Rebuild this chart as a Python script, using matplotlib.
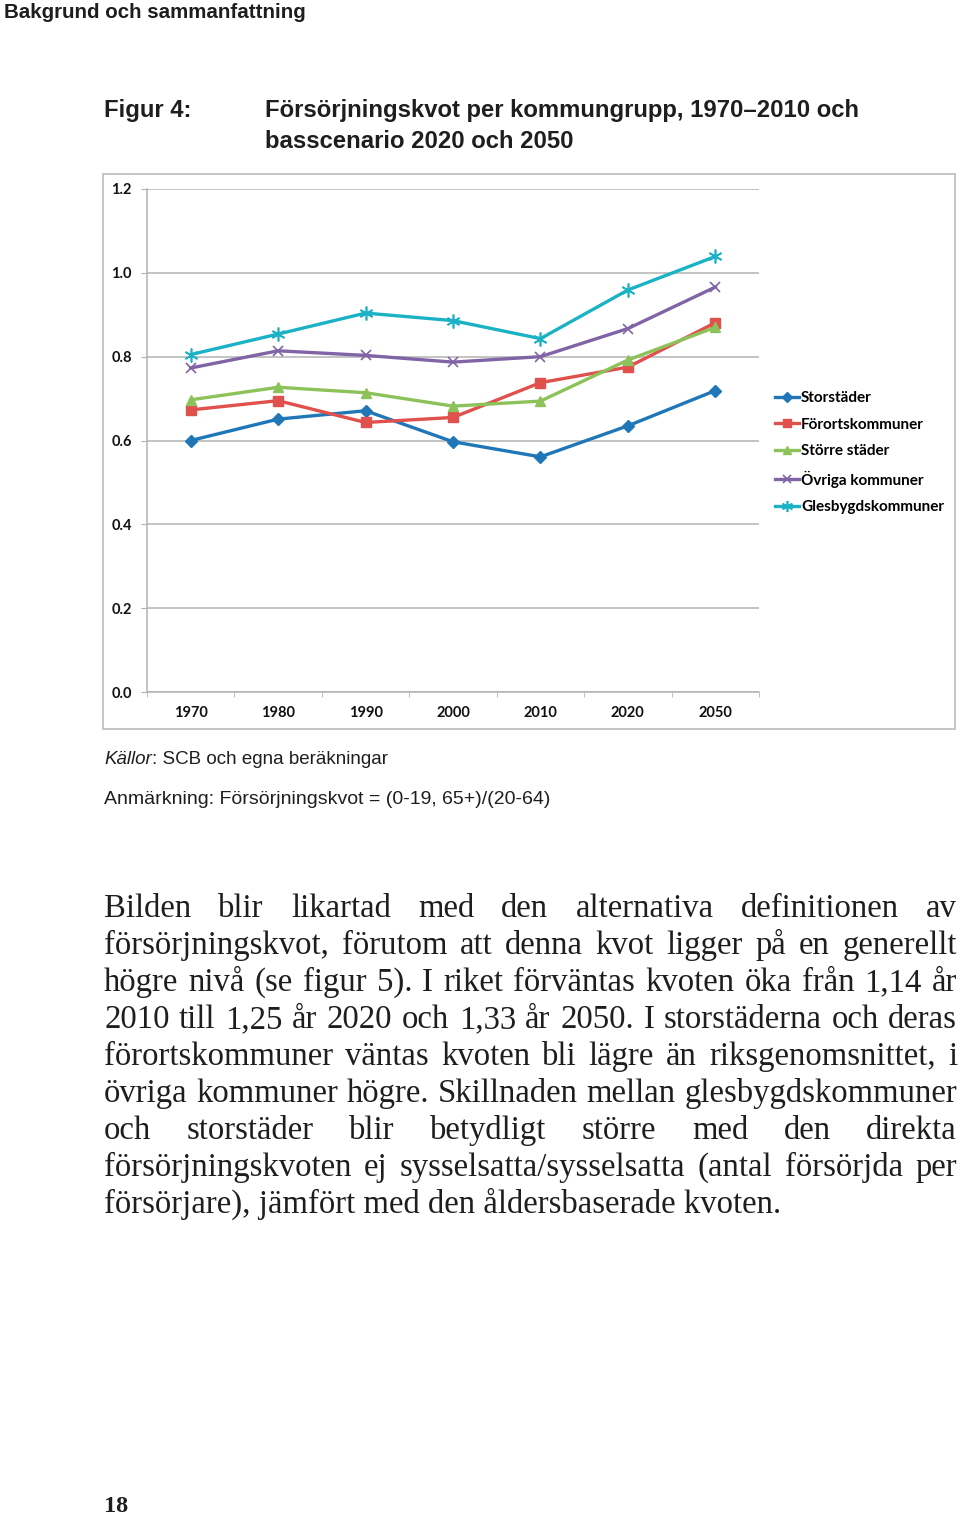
import matplotlib
matplotlib.use("Agg")
import matplotlib.pyplot as plt
from matplotlib.patches import Rectangle
from matplotlib.lines import Line2D

W, H = 960, 1516

years = ["1970", "1980", "1990", "2000", "2010", "2020", "2050"]
storstader = [0.600, 0.651, 0.671, 0.597, 0.561, 0.635, 0.719]
forortskommuner = [0.673, 0.695, 0.643, 0.655, 0.738, 0.775, 0.881]
storre_stader = [0.697, 0.727, 0.714, 0.682, 0.694, 0.792, 0.870]
ovriga_kommuner = [0.773, 0.814, 0.803, 0.787, 0.800, 0.867, 0.966]
glesbygdskommuner = [0.805, 0.854, 0.904, 0.886, 0.843, 0.959, 1.039]
series_names = ["Storstäder", "Förortskommuner", "Större städer",
                "Övriga kommuner", "Glesbygdskommuner"]
y_ticks = [0.0, 0.2, 0.4, 0.6, 0.8, 1.0, 1.2]

body_lines = [
    "Bilden blir likartad med den alternativa definitionen av",
    "försörjningskvot, förutom att denna kvot ligger på en generellt",
    "högre nivå (se figur 5). I riket förväntas kvoten öka från 1,14 år",
    "2010 till 1,25 år 2020 och 1,33 år 2050. I storstäderna och deras",
    "förortskommuner väntas kvoten bli lägre än riksgenomsnittet, i",
    "övriga kommuner högre. Skillnaden mellan glesbygdskommuner",
    "och storstäder blir betydligt större med den direkta",
    "försörjningskvoten ej sysselsatta/sysselsatta (antal försörjda per",
    "försörjare), jämfört med den åldersbaserade kvoten.",
]


def fx(x):
    return x / W


def fy(y):
    return 1 - y / H


fig = plt.figure(figsize=(W / 100, H / 100), dpi=100)
renderer = fig.canvas.get_renderer()
ink = "#1e1e1e"
grid_gray = "#b3b3b3"
sans = ["Liberation Sans", "DejaVu Sans"]
serif = ["Liberation Serif", "DejaVu Serif"]
chart_font = ["Lato", "DejaVu Sans"]

# page header
fig.text(fx(4), fy(13), "Bakgrund och sammanfattning", fontsize=14.8,
         weight="bold", family=sans, color=ink, va="center")

# figure title
title_kw = dict(fontsize=17.2, weight="bold", family=sans, color=ink, va="center")
fig.text(fx(104), fy(110), "Figur 4:", **title_kw)
fig.text(fx(265), fy(110), "Försörjningskvot per kommungrupp, 1970–2010 och", **title_kw)
fig.text(fx(265), fy(141), "basscenario 2020 och 2050", **title_kw)

# chart frame
fig.add_artist(Rectangle((fx(103), fy(729)), (955 - 103) / W, (729 - 174) / H,
                         transform=fig.transFigure, fill=False,
                         ec="#c0c0c0", lw=1.3))

ax = fig.add_axes([fx(147), fy(692), (759 - 147) / W, (692 - 189) / H])
x = list(range(len(years)))
all_series = [storstader, forortskommuner, storre_stader, ovriga_kommuner, glesbygdskommuner]
styles = [
    ("#1f77b7", "D", 6, 1.0),
    ("#e0504c", "s", 6.5, 1.0),
    ("#8dc25a", "^", 7.5, 1.0),
    ("#8064a6", "x", 7.5, 1.2),
    ("#1cb2c6", (6, 2, 0), 10, 1.2),
]
handles = []
for vals, name, (col, mk, ms, mew) in zip(all_series, series_names, styles):
    ax.plot(x, vals, color=col, lw=2.4, marker=mk, ms=ms, mew=mew,
            mfc=col, mec=col, zorder=3)
    handles.append(Line2D([], [], color=col, lw=2.4, marker=mk, ms=ms * 0.8,
                          mew=mew, mfc=col, mec=col))

ax.set_xlim(-0.5, len(years) - 0.5)
ax.set_ylim(0, 1.2)
ax.set_yticks(y_ticks)
ax.set_yticklabels([f"{v:.1f}" for v in y_ticks])
ax.set_xticks(x)
ax.set_xticklabels(years)
ax.set_xticks([i - 0.5 for i in range(len(years) + 1)], minor=True)
ax.yaxis.grid(True, color=grid_gray, lw=1.1)
ax.set_axisbelow(True)
for side in ["top", "right"]:
    ax.spines[side].set_visible(False)
for side in ["left", "bottom"]:
    ax.spines[side].set_color(grid_gray)
    ax.spines[side].set_linewidth(1.1)
ax.tick_params(axis="y", length=4, color=grid_gray, pad=7, labelsize=10.5)
ax.tick_params(axis="x", which="major", length=0, pad=10, labelsize=10.5)
ax.tick_params(axis="x", which="minor", length=3.5, color=grid_gray)
for lab in ax.get_xticklabels() + ax.get_yticklabels():
    lab.set_fontweight("bold")
    lab.set_family(chart_font)
    lab.set_color("#111111")

fig.legend(handles, series_names, loc="upper left",
           bbox_to_anchor=(fx(775), fy(391)), frameon=False,
           prop={"family": chart_font, "weight": "bold", "size": 11},
           handlelength=1.6, handletextpad=0.1, labelspacing=0.82,
           borderpad=0, borderaxespad=0)

# source notes
t = fig.text(fx(104), fy(759), "Källor", fontsize=13.5, style="italic",
             family=sans, color=ink, va="center")
kw = t.get_window_extent(renderer).width
fig.text(fx(104 + kw), fy(759), ": SCB och egna beräkningar", fontsize=13.5,
         family=sans, color=ink, va="center")
fig.text(fx(104), fy(799), "Anmärkning: Försörjningskvot = (0-19, 65+)/(20-64)",
         fontsize=14, family=sans, color=ink, va="center")

# justified body text
body_kw = dict(fontsize=23.6, family=serif, color=ink)
left, right = 104, 957
for i, line in enumerate(body_lines):
    base = 917 + 37 * i
    if i == len(body_lines) - 1:
        fig.text(fx(left), fy(base), line, va="baseline", **body_kw)
        continue
    words = line.split(" ")
    texts = [fig.text(0, fy(base), w, va="baseline", **body_kw) for w in words]
    widths = [tt.get_window_extent(renderer).width for tt in texts]
    gap = (right - left - sum(widths)) / (len(words) - 1)
    pos = left
    for tt, wd in zip(texts, widths):
        tt.set_x(fx(pos))
        pos += wd + gap

# page number
fig.text(fx(104), fy(1507), "18", fontsize=17.5, weight="bold",
         family=serif, color=ink, va="center")

fig.savefig("out.png", dpi=100)
